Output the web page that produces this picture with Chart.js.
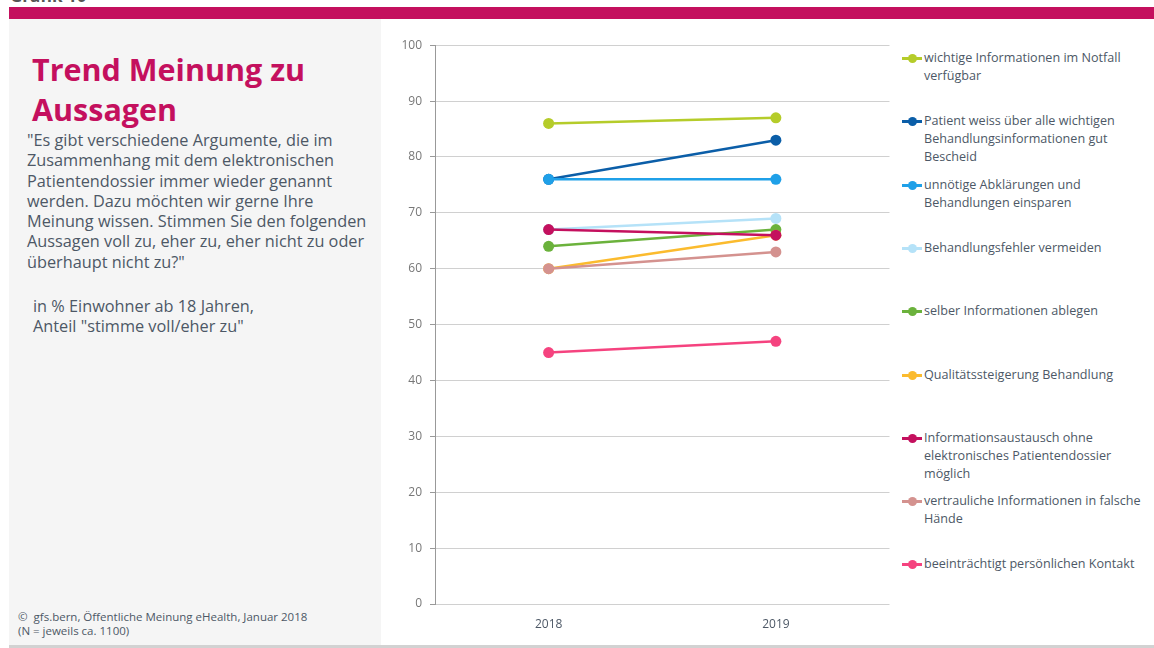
<!DOCTYPE html>
<html>
<head>
<meta charset="utf-8">
<script src="https://cdn.jsdelivr.net/npm/chart.js@4"></script>
<style>
  body { margin: 0; width: 1154px; height: 648px; background: #fff; position: relative; overflow: hidden; font-family: "Open Sans", sans-serif; color: #4d5866; }
  #topTitle { position: absolute; left: 10px; top: -16px; font-size: 17px; font-weight: bold; color: #555; }
  #bar { position: absolute; left: 9px; top: 7px; width: 1145px; height: 12px; background: #c4105e; }
  #panel { position: absolute; left: 9px; top: 19px; width: 372px; height: 626px; background: #f5f5f5; }
  #bottomLine { position: absolute; left: 9px; top: 645px; width: 1145px; height: 3px; background: #d2d2d2; }
  #title { position: absolute; left: 32px; top: 49px; font-size: 30.5px; font-weight: bold; color: #c4105e; line-height: 40px; }
  #question { position: absolute; left: 27px; top: 130px; font-size: 16.3px; line-height: 20.3px; white-space: nowrap; }
  #base { position: absolute; left: 33px; top: 296px; font-size: 16.3px; line-height: 20px; white-space: nowrap; }
  #source { position: absolute; left: 18px; top: 610px; font-size: 11.5px; line-height: 14px; }
  #chartBox { position: absolute; left: 380px; top: 30px; width: 515px; height: 610px; }
  .item { position: absolute; left: 902px; display: flex; align-items: flex-start; font-size: 12.6px; line-height: 18px; }
  .mark { position: relative; width: 22px; height: 18px; flex: none; }
  .mark .ln { position: absolute; left: 0; top: 8px; width: 20px; height: 2.5px; }
  .mark .dt { position: absolute; left: 6px; top: 5px; width: 9px; height: 9px; border-radius: 50%; }
</style>
</head>
<body>
<div id="topTitle">Grafik 10</div>
<div id="bar"></div>
<div id="panel"></div>
<div id="bottomLine"></div>
<div id="title">Trend Meinung zu<br>Aussagen</div>
<div id="question">"Es gibt verschiedene Argumente, die im<br>Zusammenhang mit dem elektronischen<br>Patientendossier immer wieder genannt<br>werden. Dazu möchten wir gerne Ihre<br>Meinung wissen. Stimmen Sie den folgenden<br>Aussagen voll zu, eher zu, eher nicht zu oder<br>überhaupt nicht zu?"</div>
<div id="base">in % Einwohner ab 18 Jahren,<br>Anteil "stimme voll/eher zu"</div>
<div id="source">©&nbsp; gfs.bern, Öffentliche Meinung eHealth, Januar 2018<br>(N = jeweils ca. 1100)</div>
<div id="chartBox"><canvas id="trendChart"></canvas></div>
<div id="legend"></div>

<script>
// Jahre (x-Achse)
const years = ['2018', '2019'];

// Legendentexte, Zeilenumbrüche wie im Original
const seriesLabels = [
    ['wichtige Informationen im Notfall', 'verfügbar'],
    ['Patient weiss über alle wichtigen', 'Behandlungsinformationen gut', 'Bescheid'],
    ['unnötige Abklärungen und', 'Behandlungen einsparen'],
    ['Behandlungsfehler vermeiden'],
    ['selber Informationen ablegen'],
    ['Qualitätssteigerung Behandlung'],
    ['Informationsaustausch ohne', 'elektronisches Patientendossier', 'möglich'],
    ['vertrauliche Informationen in falsche', 'Hände'],
    ['beeinträchtigt persönlichen Kontakt']
];

// Werte in %
const notfall = [86, 87];
const bescheid = [76, 83];
const abklaerungen = [76, 76];
const fehler = [67, 69];
const ablegen = [64, 67];
const qualitaet = [60, 66];
const austausch = [67, 66];
const vertraulich = [60, 63];
const kontakt = [45, 47];

const seriesValues = [notfall, bescheid, abklaerungen, fehler, ablegen, qualitaet, austausch, vertraulich, kontakt];

const seriesColors = ['#b5cc2a', '#0b5ea8', '#1fa0e8', '#b5e2f8', '#6bb23c', '#fbbb2e', '#c4105e', '#d4928f', '#f5437f'];

document.addEventListener("DOMContentLoaded", function() {
    const datasets = seriesValues.map(function(values, i) {
        return {
            label: seriesLabels[i].join(' '),
            data: values,
            borderColor: seriesColors[i],
            backgroundColor: seriesColors[i],
            pointBackgroundColor: seriesColors[i],
            pointBorderWidth: 0,
            pointRadius: 5.5,
            borderWidth: 2.5,
            order: seriesValues.length - i, // spätere Serien liegen oben
            fill: false
        };
    });

    const ctx = document.getElementById('trendChart').getContext('2d');
    new Chart(ctx, {
        type: 'line',
        data: { labels: years, datasets: datasets },
        options: {
            responsive: true,
            maintainAspectRatio: false,
            animation: false,
            layout: { padding: { top: 14, right: 3, left: 0, bottom: 0 } },
            plugins: { legend: { display: false }, tooltip: { enabled: false } },
            scales: {
                x: {
                    offset: true,
                    grid: { display: false },
                    border: { display: false },
                    ticks: { color: '#4d5866', padding: 5, font: { family: 'Open Sans', size: 12 } },
                    afterFit: function(scale) { scale.height = 36; }
                },
                y: {
                    min: 0,
                    max: 100,
                    ticks: { stepSize: 10, color: '#777', padding: 8, font: { family: 'Open Sans', size: 12 } },
                    grid: { color: '#d0d0d0', lineWidth: 1, tickLength: 5, tickColor: '#999' },
                    border: { color: '#999', width: 1 },
                    afterFit: function(scale) { scale.width = 55; }
                }
            }
        }
    });

    // eigene Legende rechts
    const legend = document.getElementById('legend');
    seriesLabels.forEach(function(lines, i) {
        const item = document.createElement('div');
        item.className = 'item';
        item.style.top = Math.round(49 + i * 63.3) + 'px';
        item.innerHTML = '<div class="mark"><div class="ln" style="background:' + seriesColors[i] + '"></div>' +
            '<div class="dt" style="background:' + seriesColors[i] + '"></div></div>' +
            '<div>' + lines.join('<br>') + '</div>';
        legend.appendChild(item);
    });
});
</script>
</body>
</html>
